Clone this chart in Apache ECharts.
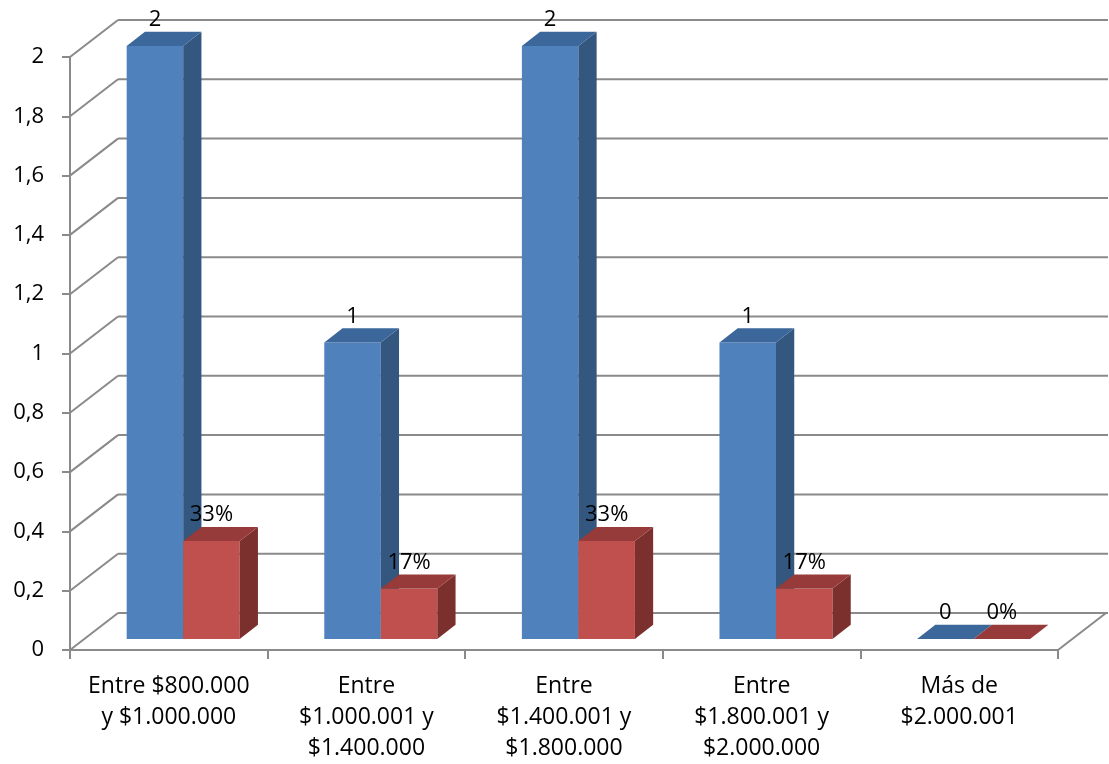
<!DOCTYPE html>
<html><head><meta charset="utf-8">
<script src="https://cdn.jsdelivr.net/npm/echarts@6/dist/echarts.min.js"></script>
<style>html,body{margin:0;padding:0;background:#fff}#c{width:1109px;height:764px}</style>
</head><body><div id="c"></div>
<script>
const categories = ['Entre $800.000\ny $1.000.000', 'Entre\n$1.000.001 y\n$1.400.000', 'Entre\n$1.400.001 y\n$1.800.000', 'Entre\n$1.800.001 y\n$2.000.000', 'Más de\n$2.000.001'];
const countValues = [2, 1, 2, 1, 0];
const shareValues = [0.33, 0.17, 0.33, 0.17, 0];
const countLabels = ['2', '1', '2', '1', '0'];
const shareLabels = ['33%', '17%', '33%', '17%', '0%'];
const yTicks = [0, 0.2, 0.4, 0.6, 0.8, 1, 1.2, 1.4, 1.6, 1.8, 2];

const DX = 48, DY = -37;        // depth vector of the floor/walls
const F1 = 0.30, F2 = 0.68;     // bar front/back depth fractions
const GRID_COLOR = '#8a8a8a';
const FAMILY = '"Open Sans", "Noto Sans", sans-serif';
const FONT = '22px ' + FAMILY;

const chart = echarts.init(document.getElementById('c'));

function wallItem(params, api) {
  const v = api.value(1);
  const band = api.size([1, 0])[0];
  const p0 = api.coord([0, v]);
  const pN = api.coord([categories.length - 1, v]);
  const left = p0[0] - band / 2, right = pN[0] + band / 2, y = p0[1];
  const st = { stroke: GRID_COLOR, lineWidth: 2 };
  const children = [
    { type: 'line', shape: { x1: left, y1: y, x2: left + DX, y2: y + DY }, style: st },
    { type: 'line', shape: { x1: left + DX, y1: y + DY, x2: right + DX + 2, y2: y + DY }, style: st }
  ];
  if (v === 0) {
    children.push({ type: 'line', shape: { x1: right, y1: y, x2: right + DX, y2: y + DY }, style: st });
  }
  return { type: 'group', children: children };
}

function makeBar(sideIdx, front, top, side, labels) {
  return function (params, api) {
    const i = api.value(0), v = api.value(1);
    const band = api.size([1, 0])[0];
    const bw = band * 0.286;
    const c = api.coord([i, v]);
    const b = api.coord([i, 0]);
    const fx = F1 * DX, fy = F1 * DY;
    const dx = (F2 - F1) * DX, dy = (F2 - F1) * DY;
    const x0 = c[0] + (sideIdx === 0 ? -bw : 0) + fx;
    const x1 = x0 + bw;
    const yt = c[1] + fy, yb = b[1] + fy;
    const children = [];
    if (yb - yt > 0.5) {
      children.push({ type: 'polygon', shape: { points: [[x0, yt], [x1, yt], [x1, yb], [x0, yb]] }, style: { fill: front } });
      children.push({ type: 'polygon', shape: { points: [[x1, yt], [x1 + dx, yt + dy], [x1 + dx, yb + dy], [x1, yb]] }, style: { fill: side } });
    }
    children.push({ type: 'polygon', shape: { points: [[x0, yt], [x1, yt], [x1 + dx, yt + dy], [x0 + dx, yt + dy]] }, style: { fill: top } });
    children.push({ type: 'text', style: { text: labels[i], x: (x0 + x1) / 2, y: yt + dy - 1, align: 'center', verticalAlign: 'bottom', font: FONT, fill: '#000' } });
    return { type: 'group', children: children };
  };
}

chart.setOption({
  animation: false,
  grid: { left: 70, right: 51, top: 57, bottom: 114 },
  xAxis: {
    type: 'category', data: categories,
    axisLine: { show: true, lineStyle: { color: GRID_COLOR, width: 2 } },
    axisTick: { show: true, length: 9, lineStyle: { color: GRID_COLOR, width: 2 } },
    axisLabel: { margin: 21, fontSize: 23, lineHeight: 31, color: '#000', fontFamily: FAMILY, interval: 0 },
    splitLine: { show: false }
  },
  yAxis: {
    type: 'value', min: 0, max: 2, interval: 0.2,
    axisLine: { show: true, lineStyle: { color: GRID_COLOR, width: 2 } },
    axisTick: { show: true, length: 8, lineStyle: { color: GRID_COLOR, width: 2 } },
    axisLabel: { margin: 26, fontSize: 22, color: '#000', fontFamily: FAMILY,
      formatter: v => String(Math.round(v * 10) / 10).replace('.', ',') },
    splitLine: { show: false }
  },
  series: [
    { type: 'custom', z: 1, silent: true, renderItem: wallItem, data: yTicks.map(v => [0, v]) },
    { type: 'custom', z: 2, renderItem: makeBar(0, '#4F81BD', '#3C679B', '#33577F', countLabels), data: countValues.map((v, i) => [i, v]) },
    { type: 'custom', z: 3, renderItem: makeBar(1, '#C0504D', '#963B39', '#7C302E', shareLabels), data: shareValues.map((v, i) => [i, v]) }
  ]
});
</script></body></html>
